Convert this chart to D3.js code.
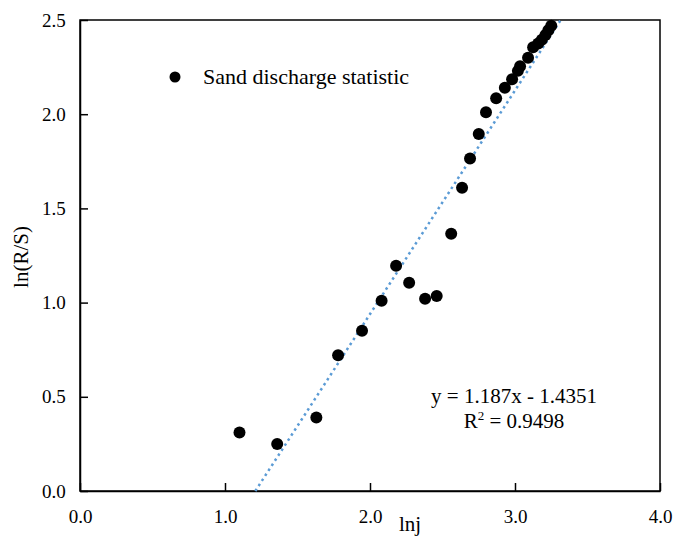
<!DOCTYPE html>
<html>
<head>
<meta charset="utf-8">
<script src="https://cdn.jsdelivr.net/npm/d3@7"></script>
<style>
  body { margin: 0; background: #fff; }
  svg { display: block; }
  svg text { font-family: "Liberation Serif", "Times New Roman", Times, "DejaVu Serif", serif !important; }
</style>
</head>
<body>
<svg width="675" height="536"></svg>
<script>
// Chart data
const lnj = [1.10, 1.36, 1.63, 1.78, 1.945, 2.08, 2.18, 2.27, 2.38, 2.46, 2.56, 2.635, 2.69, 2.75, 2.80,
  2.87, 2.93, 2.98, 3.02, 3.035, 3.09, 3.125, 3.16, 3.185, 3.21, 3.23, 3.25];
const lnRS = [0.31, 0.25, 0.39, 0.72, 0.85, 1.01, 1.195, 1.105, 1.02, 1.035, 1.365, 1.61, 1.765, 1.895, 2.01,
  2.085, 2.14, 2.185, 2.23, 2.255, 2.30, 2.355, 2.375, 2.395, 2.42, 2.445, 2.47];
const xTicks = [0, 1, 2, 3, 4];
const yTicks = [0, 0.5, 1, 1.5, 2, 2.5];
const slope = 1.187;
const intercept = -1.4351;
const seriesName = 'Sand discharge statistic';

const svg = d3.select('svg');
const plotLeft = 80;
const plotRight = 660;
const plotTop = 20;
const plotBottom = 491;

const x = d3.scaleLinear().domain([0, 4]).range([plotLeft, plotRight]);
const y = d3.scaleLinear().domain([0, 2.5]).range([plotBottom, plotTop]);

// Frame
svg.append('rect')
  .attr('x', plotLeft)
  .attr('y', plotTop)
  .attr('width', plotRight - plotLeft)
  .attr('height', plotBottom - plotTop)
  .attr('fill', 'none')
  .attr('stroke', '#000')
  .attr('stroke-width', 1.5);

// Axes with inward ticks
const xAxis = svg.append('g')
  .attr('transform', `translate(0, ${plotBottom})`)
  .call(d3.axisBottom(x).tickValues(xTicks).tickSizeInner(-8).tickSizeOuter(0)
    .tickPadding(18).tickFormat(d3.format('.1f')));
const yAxis = svg.append('g')
  .attr('transform', `translate(${plotLeft}, 0)`)
  .call(d3.axisLeft(y).tickValues(yTicks).tickSizeInner(-8).tickSizeOuter(0)
    .tickPadding(18).tickFormat(d3.format('.1f')));

[xAxis, yAxis].forEach((g) => {
  g.attr('font-family', null);
  g.select('.domain').attr('stroke', '#000').attr('stroke-width', 1.5);
  g.selectAll('.tick line').attr('stroke', '#000').attr('stroke-width', 1.5);
  g.selectAll('.tick text')
    .attr('fill', '#000')
    .style('font-size', '19px');
});
xAxis.selectAll('.tick text').attr('dy', '0.75em');
yAxis.selectAll('.tick text').attr('dx', '0.2em');

// Axis titles
svg.append('text')
  .attr('x', 410)
  .attr('y', 531)
  .attr('text-anchor', 'middle')
  .style('font-size', '21px')
  .text('lnj');

svg.append('text')
  .attr('transform', 'rotate(-90)')
  .attr('x', -257)
  .attr('y', 28)
  .attr('text-anchor', 'middle')
  .style('font-size', '21px')
  .text('ln(R/S)');

// Trend line (dotted)
const x0 = -intercept / slope;
const x1 = (2.5 - intercept) / slope;
svg.append('line')
  .attr('x1', x(x0))
  .attr('y1', y(0))
  .attr('x2', x(x1))
  .attr('y2', y(2.5))
  .attr('stroke', '#5B9BD5')
  .attr('stroke-width', 2.5)
  .attr('stroke-dasharray', '2.5,3.5');

// Points
svg.selectAll('.dot')
  .data(lnj.map((v, i) => [v, lnRS[i]]))
  .enter()
  .append('circle')
  .attr('class', 'dot')
  .attr('cx', (d) => x(d[0]))
  .attr('cy', (d) => y(d[1]))
  .attr('r', 6)
  .attr('fill', '#000');

// Legend
svg.append('circle')
  .attr('cx', 175)
  .attr('cy', 77)
  .attr('r', 5.5)
  .attr('fill', '#000');
svg.append('text')
  .attr('x', 203)
  .attr('y', 84)
  .style('font-size', '22px')
  .text(seriesName);

// Equation
const eq = svg.append('text')
  .attr('text-anchor', 'middle')
  .style('font-size', '21px');
eq.append('tspan')
  .attr('x', 514)
  .attr('y', 403)
  .text(`y = ${slope}x - ${Math.abs(intercept)}`);
const r2 = eq.append('tspan')
  .attr('x', 514)
  .attr('y', 428);
r2.append('tspan').text('R');
r2.append('tspan').attr('dy', -8).style('font-size', '13px').text('2');
r2.append('tspan').attr('dy', 8).text(' = 0.9498');
</script>
</body>
</html>
